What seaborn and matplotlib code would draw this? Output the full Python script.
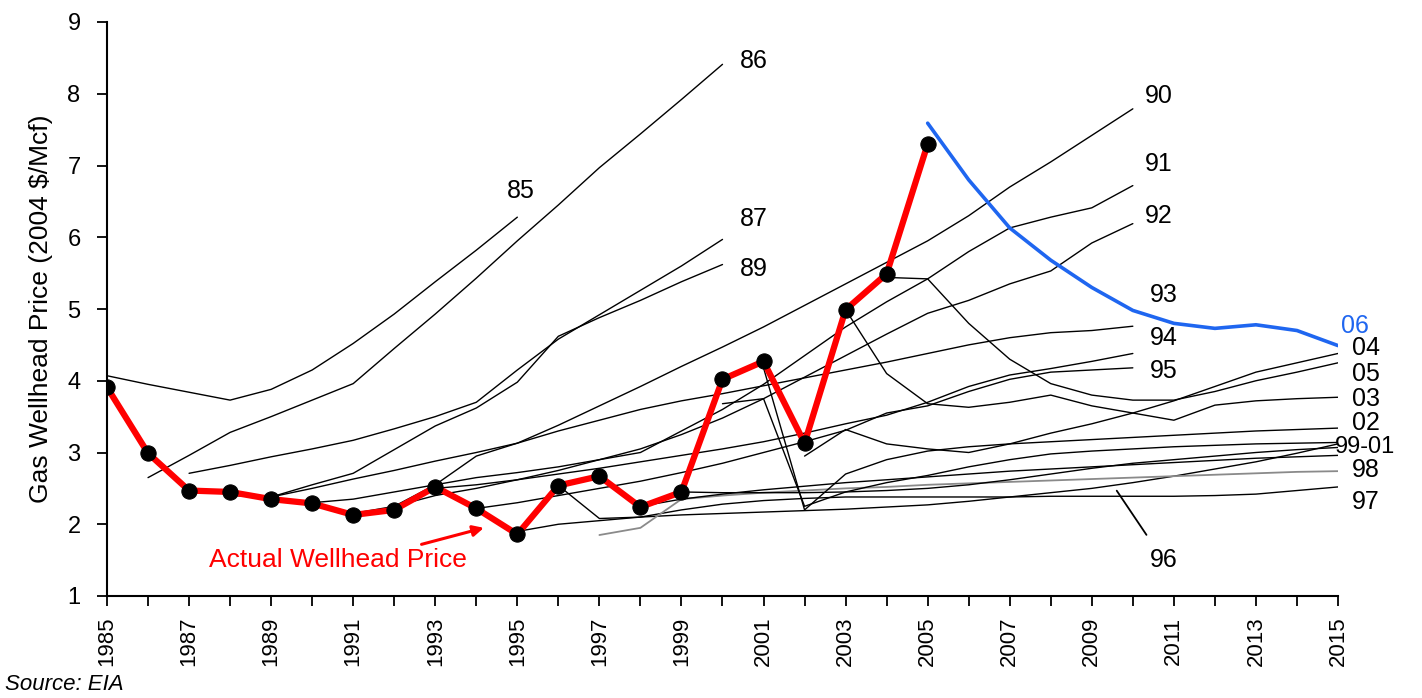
import matplotlib
matplotlib.use("Agg")
import matplotlib.pyplot as plt
import seaborn as sns
import pandas as pd

# ---------------- data ----------------
years_actual = list(range(1985, 2006))
actual_price = [3.91, 2.99, 2.47, 2.45, 2.35, 2.29, 2.13, 2.20, 2.52, 2.22, 1.86,
                2.54, 2.67, 2.24, 2.45, 4.02, 4.27, 3.13, 4.99, 5.49, 7.30]

series_names = ["85", "86", "87", "89", "90", "91", "92", "93", "94", "95",
                "96", "97", "98", "99", "00", "01", "02", "03", "04", "05", "06"]
series_start = [1985, 1986, 1987, 1988, 1989, 1990, 1991, 1992, 1993, 1994,
                1995, 1996, 1997, 1998, 1999, 2000, 2001, 2003, 2002, 2004, 2005]

aeo85 = [4.07, 3.95, 3.84, 3.73, 3.88, 4.15, 4.52, 4.93, 5.38, 5.82, 6.28]
aeo86 = [2.65, 2.96, 3.28, 3.50, 3.73, 3.96, 4.45, 4.93, 5.43, 5.95, 6.45, 6.97, 7.44, 7.92, 8.41]
aeo87 = [2.71, 2.82, 2.94, 3.05, 3.17, 3.33, 3.50, 3.70, 4.15, 4.58, 4.92, 5.26, 5.60, 5.97]
aeo89 = [2.40, 2.38, 2.55, 2.71, 3.04, 3.37, 3.62, 3.98, 4.62, 4.88, 5.12, 5.38, 5.62]
aeo90 = [2.38, 2.50, 2.63, 2.75, 2.88, 3.00, 3.13, 3.38, 3.65, 3.92, 4.20, 4.47, 4.75,
         5.05, 5.35, 5.65, 5.95, 6.30, 6.70, 7.05, 7.42, 7.79]
aeo91 = [2.30, 2.35, 2.45, 2.55, 2.65, 2.72, 2.80, 2.90, 3.00, 3.30, 3.60, 3.95, 4.35,
         4.75, 5.10, 5.42, 5.80, 6.13, 6.28, 6.41, 6.72]
aeo92 = [2.15, 2.25, 2.40, 2.50, 2.62, 2.75, 2.90, 3.05, 3.25, 3.48, 3.75, 4.05, 4.35,
         4.65, 4.94, 5.12, 5.35, 5.53, 5.92, 6.19]
aeo93 = [2.25, 2.55, 2.95, 3.13, 3.30, 3.45, 3.60, 3.72, 3.82, 3.93, 4.04, 4.15, 4.26,
         4.38, 4.50, 4.60, 4.67, 4.70, 4.76]
aeo94 = [2.50, 2.55, 2.62, 2.70, 2.78, 2.87, 2.96, 3.05, 3.15, 3.27, 3.40, 3.52, 3.70,
         3.92, 4.08, 4.17, 4.27, 4.38]
aeo95 = [2.22, 2.30, 2.40, 2.50, 2.60, 2.72, 2.85, 3.00, 3.15, 3.31, 3.55, 3.65, 3.85,
         4.02, 4.12, 4.15, 4.18]
aeo96 = [1.90, 2.00, 2.05, 2.10, 2.13, 2.15, 2.17, 2.19, 2.21, 2.24, 2.27, 2.32, 2.38,
         2.44, 2.50, 2.58, 2.67, 2.77, 2.87, 2.99, 3.12]
aeo97 = [2.54, 2.08, 2.10, 2.20, 2.28, 2.33, 2.36, 2.38, 2.38, 2.38, 2.38, 2.38, 2.39,
         2.39, 2.39, 2.39, 2.40, 2.42, 2.47, 2.52]
aeo98 = [1.85, 1.95, 2.35, 2.40, 2.44, 2.47, 2.50, 2.52, 2.55, 2.57, 2.59, 2.61, 2.63,
         2.65, 2.67, 2.69, 2.71, 2.73, 2.74]
aeo99 = [2.25, 2.35, 2.42, 2.48, 2.53, 2.58, 2.62, 2.66, 2.70, 2.74, 2.77, 2.80, 2.83,
         2.86, 2.89, 2.92, 2.94, 2.96]
aeo00 = [2.45, 2.44, 2.44, 2.44, 2.45, 2.47, 2.50, 2.55, 2.62, 2.70, 2.78, 2.85, 2.90,
         2.95, 3.00, 3.04, 3.07]
aeo01 = [3.68, 3.75, 2.25, 2.45, 2.58, 2.68, 2.80, 2.90, 2.98, 3.02, 3.05, 3.08, 3.10,
         3.12, 3.13, 3.14]
aeo02 = [4.18, 2.20, 2.70, 2.90, 3.02, 3.08, 3.12, 3.15, 3.18, 3.21, 3.24, 3.27, 3.30,
         3.32, 3.34]
aeo03 = [4.99, 4.10, 3.68, 3.63, 3.70, 3.80, 3.65, 3.55, 3.45, 3.66, 3.72, 3.75, 3.77]
aeo04 = [2.95, 3.32, 3.12, 3.05, 3.00, 3.12, 3.27, 3.40, 3.55, 3.72, 3.92, 4.12, 4.25, 4.38]
aeo05 = [5.44, 5.42, 4.80, 4.30, 3.96, 3.80, 3.73, 3.73, 3.85, 4.00, 4.12, 4.25]
aeo06 = [7.59, 6.80, 6.13, 5.68, 5.30, 4.98, 4.80, 4.73, 4.78, 4.70, 4.49]

series_values = [aeo85, aeo86, aeo87, aeo89, aeo90, aeo91, aeo92, aeo93, aeo94, aeo95,
                 aeo96, aeo97, aeo98, aeo99, aeo00, aeo01, aeo02, aeo03, aeo04, aeo05, aeo06]

rows = []
for name, start, vals in zip(series_names, series_start, series_values):
    for i, v in enumerate(vals):
        rows.append({"series": name, "year": start + i, "price": v})
df = pd.DataFrame(rows)

label_text = ["85", "86", "87", "89", "90", "91", "92", "93", "94", "95",
              "04", "05", "03", "02", "99-01", "98", "97", "96"]
label_x = [1994.75, 2000.43, 2000.43, 2000.43, 2010.3, 2010.3, 2010.3, 2010.42, 2010.42,
           2010.42, 2015.35, 2015.35, 2015.35, 2015.35, 2014.93, 2015.35, 2015.35, 2010.42]
label_y = [6.65, 8.45, 6.26, 5.56, 7.97, 7.02, 6.30, 5.19, 4.60, 4.14,
           4.46, 4.10, 3.75, 3.41, 3.07, 2.75, 2.31, 1.50]

# ---------------- plot ----------------
sns.set_theme(style="white")
plt.rcParams['font.family'] = ['Liberation Sans', 'DejaVu Sans']
plt.rcParams['text.color'] = 'black'
plt.rcParams['axes.labelcolor'] = 'black'
plt.rcParams['xtick.color'] = 'black'
plt.rcParams['ytick.color'] = 'black'

W, H = 1422, 698
fig = plt.figure(figsize=(W / 100, H / 100), dpi=100)
ax = fig.add_axes([107 / W, 102 / H, (1338 - 107) / W, (596 - 22) / H])

blue = "#1f66f0"
for name in series_names:
    sub = df[df["series"] == name]
    if name == "06":
        color, lw, z = blue, 2.6, 6
    elif name == "98":
        color, lw, z = "#8a8a8a", 1.3, 2
    else:
        color, lw, z = "black", 1.0, 2
    sns.lineplot(data=sub, x="year", y="price", ax=ax, color=color, lw=lw,
                 estimator=None, sort=False, legend=False, zorder=z)

sns.lineplot(x=years_actual, y=actual_price, ax=ax, color="red", lw=4.5,
             marker="o", markersize=11, markerfacecolor="black",
             markeredgecolor="black", estimator=None, legend=False, zorder=5)

ax.set_xlim(1985, 2015)
ax.set_ylim(1, 9)
ax.set_xticks(list(range(1985, 2016)))
ax.set_xticklabels([str(y) if (y - 1985) % 2 == 0 else "" for y in range(1985, 2016)],
                   rotation=90, fontsize=16)
ax.set_yticks(list(range(1, 10)))
ax.set_yticklabels([str(v) for v in range(1, 10)], fontsize=17)
ax.tick_params(axis="both", direction="out", length=7, width=1.3, colors="black",
               bottom=True, left=True)
ax.tick_params(axis="x", pad=8)
ax.tick_params(axis="y", pad=12)
for s in ["top", "right"]:
    ax.spines[s].set_visible(False)
for s in ["left", "bottom"]:
    ax.spines[s].set_color("black")
    ax.spines[s].set_linewidth(1.5)
ax.set_xlabel("")
ax.set_ylabel("Gas Wellhead Price (2004 $/Mcf)", fontsize=19, labelpad=10, color="black")

for t, x, y in zip(label_text, label_x, label_y):
    fs = 17 if t == "99-01" else 18
    ax.text(x, y, t, fontsize=fs, ha="left", va="center", color="black", clip_on=False)
ax.text(2015.08, 4.77, "06", fontsize=18, ha="left", va="center", color=blue, clip_on=False)

ax.annotate("", xy=(2009.57, 2.50), xytext=(2010.37, 1.82),
            arrowprops=dict(arrowstyle="-", color="black", lw=1.3))
ax.text(1990.63, 1.50, "Actual Wellhead Price", fontsize=19, color="red",
        ha="center", va="center")
ax.annotate("", xy=(1994.25, 1.96), xytext=(1992.6, 1.71),
            arrowprops=dict(arrowstyle="-|>", color="red", lw=2.2, mutation_scale=16))

fig.text(5 / W, 1 - 685 / H, "Source: EIA", fontsize=16, style="italic",
         ha="left", va="center", color="black")

fig.savefig("out.png", dpi=100)
